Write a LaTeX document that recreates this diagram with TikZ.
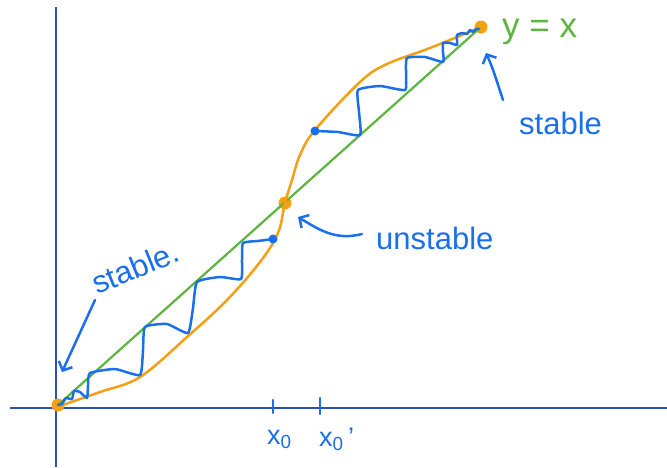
\documentclass[tikz,border=0pt]{standalone}
\usepackage{fontspec}
\setmainfont{Liberation Sans}
\usetikzlibrary{arrows.meta,positioning}
\definecolor{axisblue}{HTML}{2A50BA}
\definecolor{inkblue}{HTML}{1A6FEA}
\definecolor{diagg}{HTML}{5DB53D}
\definecolor{mapo}{HTML}{F5A012}

\begin{document}
\begin{tikzpicture}[x=1pt,y=-1pt,
 axis/.style={axisblue,line width=2.6pt},
 web/.style={inkblue,line width=2.5pt,line join=round,line cap=round},
 pointer/.style={inkblue,line width=2.5pt,line cap=round,-{Straight Barb[length=7pt,width=15pt]}},
 hand/.style={inkblue,font=\fontsize{31}{31}\selectfont,inner sep=0pt,anchor=base west},
 fixpt/.style={circle,fill=mapo,inner sep=0pt,minimum size=13pt},
 dot/.style={circle,fill=inkblue,inner sep=0pt,minimum size=9pt}]
\useasboundingbox (0,0) rectangle (667,467);
% axes
\coordinate (ytop) at (56,7);
\coordinate (ybot) at (56,467);
\coordinate (xleft) at (10,408);
\coordinate (xright) at (667,408);
\draw[axis] (ytop) -- (ybot);
\draw[axis] (xleft) -- (xright);
% fixed points
\node[fixpt] (low) at (58,405) {};
\node[fixpt] (mid) at (285,203) {};
\node[fixpt] (high) at (481,27) {};
% y = x
\draw[diagg,line width=2.2pt] (low.center) -- (high.center);
% the map
\draw[mapo,line width=2.5pt] plot[smooth,tension=0.6] coordinates {(57,407) (100,392) (140,377)
 (187,337) (227,300) (260,262) (278,233) (285,203) (292,180) (300,155) (315,130) (360,82)
 (387,64) (430,48) (481,27)};
% cobwebs
\draw[web] plot[smooth,tension=0.3] coordinates {(273,239) (258,241) (243,243) (242,260)
 (241,279) (220,277) (197,282) (193,308) (188,333) (167,324) (145,327) (143,350) (140,375)
 (115,369) (90,373) (88,386) (87,398) (80,392) (74,391) (72,399) (66,398) (62,404) (58,405)};
\draw[web] plot[smooth,tension=0.3] coordinates {(315,131) (338,132) (360,135) (359,112)
 (358,90) (380,86) (405,90) (406,74) (407,58) (425,57) (443,62) (443,52) (443,43) (450,43)
 (457,45) (457,40) (457,35) (462,33) (467,34) (470,30) (473,32) (476,29) (479,29)};
\node[dot] (start) at (273,239) {};
\node[dot] (startb) at (315,131) {};
% ticks and labels
\coordinate (t0) at (273,400);
\coordinate (t0b) at (273,413);
\coordinate (t1) at (320,398);
\coordinate (t1b) at (320,414);
\draw[web] (t0) -- (t0b);
\draw[web] (t1) -- (t1b);
\node[hand,font=\fontsize{27}{27}\selectfont] (xz) at (267,444) {x\textsubscript{0}};
\node[hand,font=\fontsize{27}{27}\selectfont] (xzb) at (319,446) {x\textsubscript{0}\,'};
% labels
\node[hand,text=diagg,font=\fontsize{35}{35}\selectfont] (yx) at (502,37) {y = x};
\node[hand] (sthi) at (519,134) {stable};
\node[hand] (unst) at (376,249) {unstable};
\node[hand,rotate=22] (stlo) at (97,295) {stable.};
% pointers
\coordinate (plo) at (95,300);
\coordinate (plotip) at (62,372);
\coordinate (pmid) at (362,234);
\coordinate (pmidtip) at (298,217);
\coordinate (phi) at (503,100);
\coordinate (phitip) at (486,53);
\draw[pointer] (plo) -- (plotip);
\draw[pointer] (pmid) .. controls (335,241) and (318,229) .. (pmidtip);
\draw[pointer] (phi) .. controls (497,82) and (493,68) .. (phitip);
\end{tikzpicture}
\end{document}
